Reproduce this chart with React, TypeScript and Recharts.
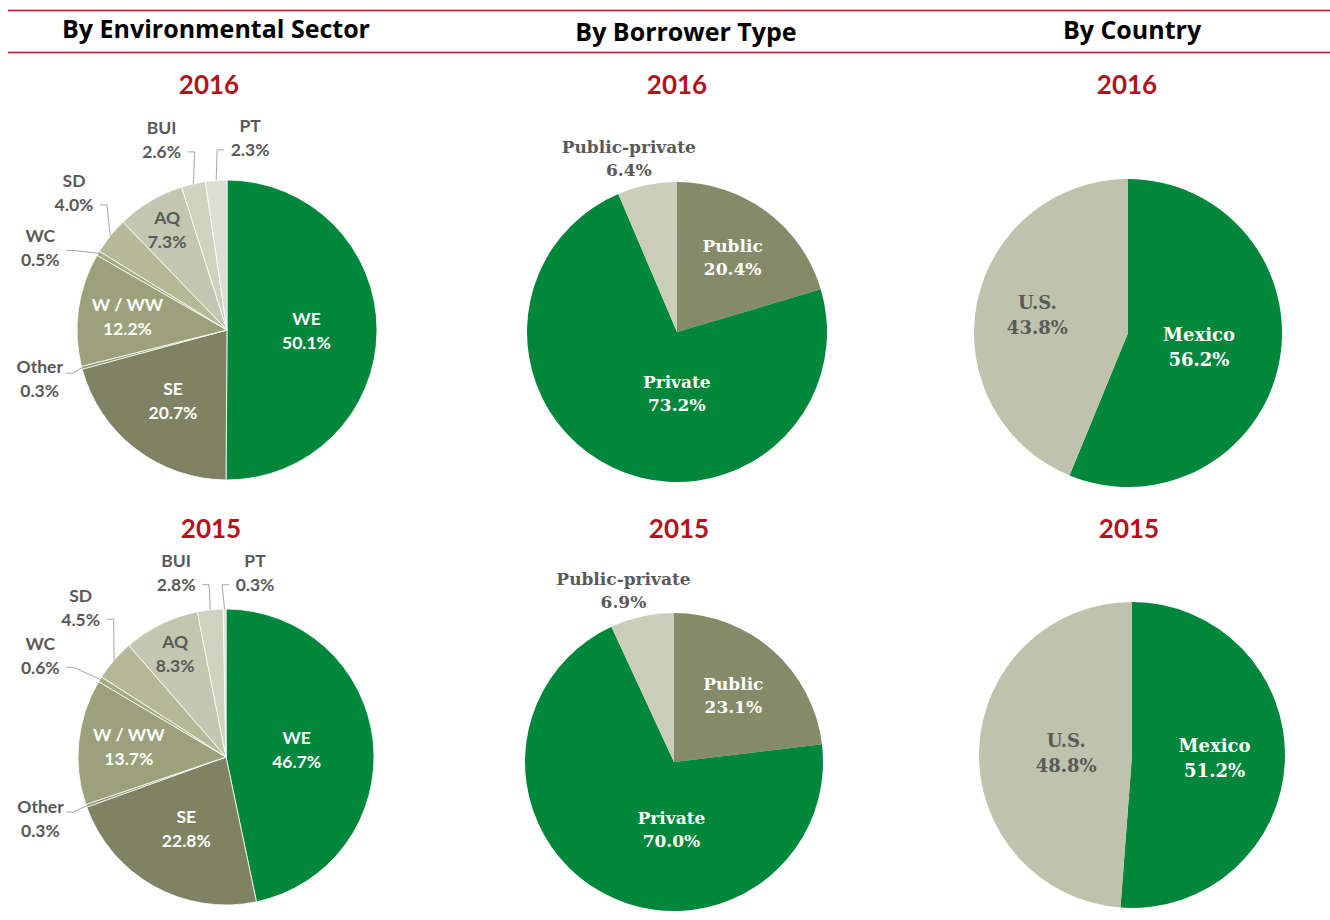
import React from 'react';
import { PieChart, Pie, Cell } from 'recharts';

// ---------- data ----------
const SECTOR_NAMES = ['WE', 'SE', 'Other', 'W / WW', 'WC', 'SD', 'AQ', 'BUI', 'PT'];
const SECTOR_2016 = [50.1, 20.7, 0.3, 12.2, 0.5, 4.0, 7.3, 2.6, 2.3];
const SECTOR_2015 = [46.7, 22.8, 0.3, 13.7, 0.6, 4.5, 8.3, 2.8, 0.3];

const BORROWER_NAMES = ['Public', 'Private', 'Public-private'];
const BORROWER_2016 = [20.4, 73.2, 6.4];
const BORROWER_2015 = [23.1, 70.0, 6.9];

const COUNTRY_NAMES = ['Mexico', 'U.S.'];
const COUNTRY_2016 = [56.2, 43.8];
const COUNTRY_2015 = [51.2, 48.8];

const COLUMN_TITLES = ['By Environmental Sector', 'By Borrower Type', 'By Country'];
const YEARS = ['2016', '2015'];

// ---------- styles ----------
const GREEN = '#00873B';
const SECTOR_COLORS = ['#00873B', '#7F8263', '#8E926F', '#9CA17B', '#A6AA85', '#B5B998', '#C4C7AF', '#D0D2C0', '#DCDED3'];
const BORROWER_COLORS = ['#858A68', GREEN, '#CBCDBB'];
const COUNTRY_COLORS = [GREEN, '#C0C3AB'];
const RED = '#B3131C';
const GREY_TEXT = '#595959';

type LabelCfg = { rf: number; da?: number; white?: boolean; line?: boolean };

const SECTOR_LAYOUT_2016: Record<string, LabelCfg> = {
  WE: { rf: 0.53, white: true },
  SE: { rf: 0.59, white: true },
  'W / WW': { rf: 0.67, white: true },
  AQ: { rf: 0.78 },
  Other: { rf: 1.29, da: 0, line: true },
  WC: { rf: 1.36, da: 7, line: true },
  SD: { rf: 1.37, da: -3, line: true },
  BUI: { rf: 1.34, da: 6, line: true },
  PT: { rf: 1.29, da: -11, line: true },
};
const SECTOR_LAYOUT_2015: Record<string, LabelCfg> = {
  WE: { rf: 0.48, white: true },
  SE: { rf: 0.55, white: true },
  'W / WW': { rf: 0.66, white: true },
  AQ: { rf: 0.78 },
  Other: { rf: 1.32, da: -1, line: true },
  WC: { rf: 1.43, da: 3, line: true },
  SD: { rf: 1.41, da: -5, line: true },
  BUI: { rf: 1.29, da: 9, line: true },
  PT: { rf: 1.26, da: -9.5, line: true },
};
const BORROWER_LAYOUT_2016: Record<string, LabelCfg> = {
  Public: { rf: 0.62, white: true },
  Private: { rf: 0.41, da: 25, white: true },
  'Public-private': { rf: 1.2, da: 4 },
};
const BORROWER_LAYOUT_2015: Record<string, LabelCfg> = {
  Public: { rf: 0.6, white: true },
  Private: { rf: 0.45, da: 27, white: true },
  'Public-private': { rf: 1.2, da: 4 },
};
const COUNTRY_LAYOUT_2016: Record<string, LabelCfg> = {
  Mexico: { rf: 0.47, white: true },
  'U.S.': { rf: 0.6 },
};
const COUNTRY_LAYOUT_2015: Record<string, LabelCfg> = {
  Mexico: { rf: 0.54, white: true },
  'U.S.': { rf: 0.43 },
};

const SANS = 'Lato, "Open Sans", sans-serif';
const TITLE_FONT = '"Open Sans", Lato, sans-serif';
const SERIF = '"DejaVu Serif", serif';

type Panel = {
  key: string;
  names: string[];
  values: number[];
  colors: string[];
  layout: Record<string, LabelCfg>;
  cx: number;
  cy: number;
  r: number;
  font: string;
  fontSize: number;
  lineGap: number;
  stroke: string;
  strokeWidth: number;
};

const PANELS: Panel[] = [
  { key: 's16', names: SECTOR_NAMES, values: SECTOR_2016, colors: SECTOR_COLORS, layout: SECTOR_LAYOUT_2016, cx: 227, cy: 330, r: 150, font: SANS, fontSize: 17.5, lineGap: 24, stroke: '#ffffff', strokeWidth: 0.8 },
  { key: 's15', names: SECTOR_NAMES, values: SECTOR_2015, colors: SECTOR_COLORS, layout: SECTOR_LAYOUT_2015, cx: 226, cy: 757, r: 148, font: SANS, fontSize: 17.5, lineGap: 24, stroke: '#ffffff', strokeWidth: 0.8 },
  { key: 'b16', names: BORROWER_NAMES, values: BORROWER_2016, colors: BORROWER_COLORS, layout: BORROWER_LAYOUT_2016, cx: 677, cy: 332, r: 150, font: SERIF, fontSize: 17, lineGap: 23, stroke: 'none', strokeWidth: 0 },
  { key: 'b15', names: BORROWER_NAMES, values: BORROWER_2015, colors: BORROWER_COLORS, layout: BORROWER_LAYOUT_2015, cx: 674, cy: 762, r: 149, font: SERIF, fontSize: 17, lineGap: 23, stroke: 'none', strokeWidth: 0 },
  { key: 'c16', names: COUNTRY_NAMES, values: COUNTRY_2016, colors: COUNTRY_COLORS, layout: COUNTRY_LAYOUT_2016, cx: 1128, cy: 333, r: 154, font: SERIF, fontSize: 18, lineGap: 25, stroke: 'none', strokeWidth: 0 },
  { key: 'c15', names: COUNTRY_NAMES, values: COUNTRY_2015, colors: COUNTRY_COLORS, layout: COUNTRY_LAYOUT_2015, cx: 1132, cy: 755, r: 153, font: SERIF, fontSize: 18, lineGap: 25, stroke: 'none', strokeWidth: 0 },
];

const TITLE_POS = [
  { x: 216, y: 28 },
  { x: 686, y: 31 },
  { x: 1132, y: 29 },
];
const YEAR_POS = [
  [{ x: 209, y: 84 }, { x: 211, y: 528 }],
  [{ x: 677, y: 84 }, { x: 679, y: 528 }],
  [{ x: 1127, y: 84 }, { x: 1129, y: 528 }],
];

const RAD = Math.PI / 180;

function makeLabel(panel: Panel) {
  return (props: any) => {
    const { cx, cy, midAngle, outerRadius } = props;
    const name: string = props.payload?.name ?? props.name;
    const value: number = props.payload?.value ?? props.value;
    const cfg = panel.layout[name] || { rf: 0.6 };
    const ang = (midAngle + (cfg.da || 0)) * RAD;
    const lx = cx + outerRadius * cfg.rf * Math.cos(ang);
    const ly = cy - outerRadius * cfg.rf * Math.sin(ang);
    const fill = cfg.white ? '#ffffff' : GREY_TEXT;
    let leader: React.ReactNode = null;
    if (cfg.line) {
      const ex = cx + outerRadius * Math.cos(midAngle * RAD);
      const ey = cy - outerRadius * Math.sin(midAngle * RAD);
      const sign = ex > lx ? 1 : -1;
      const endX = lx + sign * 26;
      const dy = Math.max(-12, Math.min(12, (ey - ly) * 0.5));
      const endY = ly + dy;
      const elbowX = endX + sign * 7;
      leader = (
        <polyline
          points={`${ex},${ey} ${elbowX},${endY} ${endX},${endY}`}
          fill="none"
          stroke="#A6A6A6"
          strokeWidth={1}
        />
      );
    }
    return (
      <g key={`lbl-${panel.key}-${name}`}>
        {leader}
        <text
          x={lx}
          y={ly - panel.lineGap / 2}
          textAnchor="middle"
          dominantBaseline="central"
          fontFamily={panel.font}
          fontWeight={700}
          fontSize={panel.fontSize}
          fill={fill}
        >
          {name}
        </text>
        <text
          x={lx}
          y={ly + panel.lineGap / 2}
          textAnchor="middle"
          dominantBaseline="central"
          fontFamily={panel.font}
          fontWeight={700}
          fontSize={panel.fontSize}
          fill={fill}
        >
          {value.toFixed(1) + '%'}
        </text>
      </g>
    );
  };
}

export default function App() {
  return (
    <div style={{ position: 'absolute', left: 0, top: 0, width: 1330, height: 920, background: '#ffffff' }}>
      <div style={{ position: 'absolute', left: 0, top: 0 }}>
        <PieChart width={1330} height={920} margin={{ top: 0, right: 0, bottom: 0, left: 0 }}>
          {PANELS.map((p) => (
            <Pie
              key={p.key}
              data={p.names.map((n, i) => ({ name: n, value: p.values[i] }))}
              dataKey="value"
              nameKey="name"
              cx={p.cx}
              cy={p.cy}
              innerRadius={0}
              outerRadius={p.r}
              startAngle={90}
              endAngle={-270}
              stroke={p.stroke}
              strokeWidth={p.strokeWidth}
              isAnimationActive={false}
              labelLine={false}
              label={makeLabel(p)}
            >
              {p.names.map((n, i) => (
                <Cell key={n} fill={p.colors[i]} stroke={p.stroke} strokeWidth={p.strokeWidth} />
              ))}
            </Pie>
          ))}
        </PieChart>
      </div>
      <svg
        width={1330}
        height={920}
        style={{ position: 'absolute', left: 0, top: 0, pointerEvents: 'none' }}
      >
        <line x1={8} x2={1330} y1={10.5} y2={10.5} stroke={RED} strokeWidth={1.6} />
        <line x1={8} x2={1330} y1={52.5} y2={52.5} stroke={RED} strokeWidth={1.6} />
        {COLUMN_TITLES.map((t, i) => (
          <text
            key={t}
            x={TITLE_POS[i].x}
            y={TITLE_POS[i].y}
            textAnchor="middle"
            dominantBaseline="central"
            fontFamily={TITLE_FONT}
            fontWeight={700}
            fontSize={25}
            fill="#000000"
          >
            {t}
          </text>
        ))}
        {YEAR_POS.map((col, ci) =>
          col.map((pos, yi) => (
            <text
              key={`y-${ci}-${yi}`}
              x={pos.x}
              y={pos.y}
              textAnchor="middle"
              dominantBaseline="central"
              fontFamily={SANS}
              fontWeight={700}
              fontSize={26}
              fill={RED}
            >
              {YEARS[yi]}
            </text>
          ))
        )}
      </svg>
    </div>
  );
}
